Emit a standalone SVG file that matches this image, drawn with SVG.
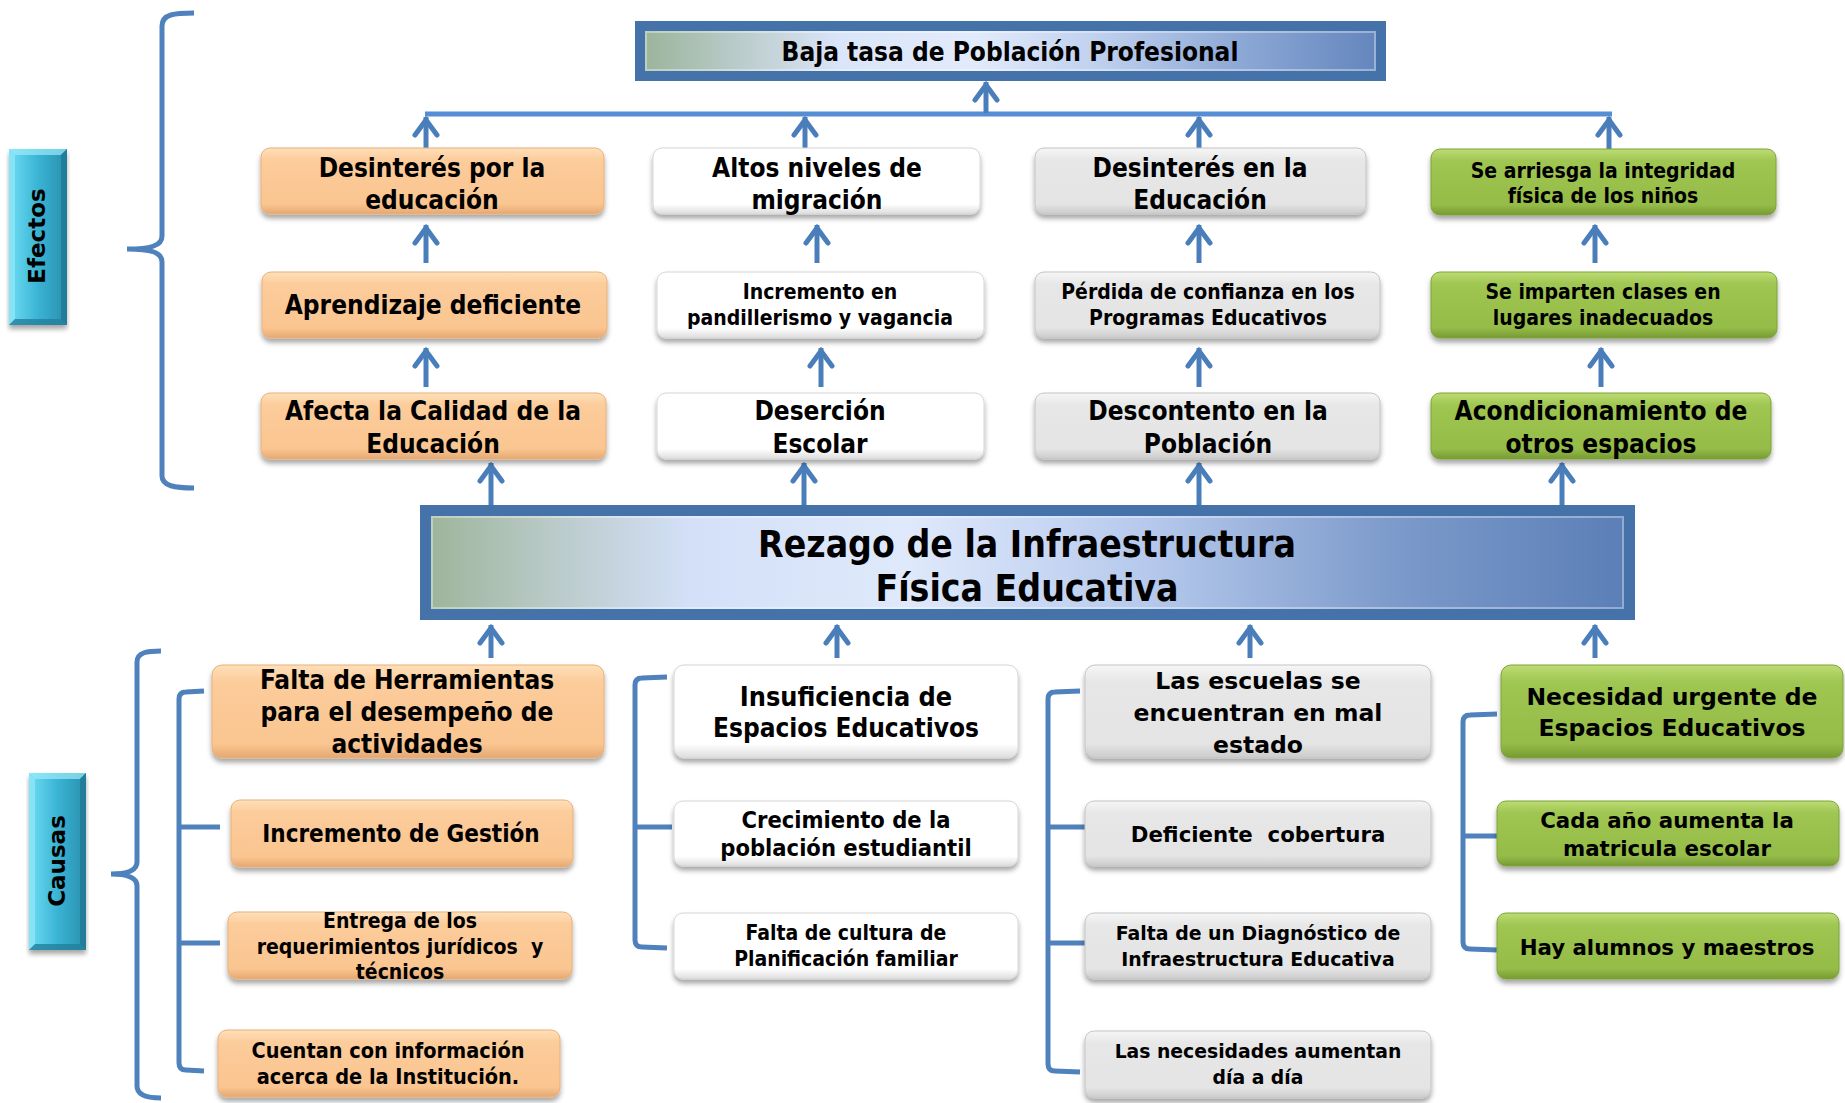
<svg xmlns="http://www.w3.org/2000/svg" width="1845" height="1103" viewBox="0 0 1845 1103">
<style>
.t{font-family:"DejaVu Sans Condensed","DejaVu Sans",sans-serif;font-stretch:condensed;font-weight:bold;text-anchor:middle;fill:#000}
.v{font-family:"DejaVu Sans",Verdana,sans-serif;font-weight:bold;text-anchor:middle;fill:#000}
.pre{white-space:pre}
.or{fill:url(#gOr);stroke:#E9B07A;stroke-width:1}
.wh{fill:url(#gWh);stroke:#D6D6D6;stroke-width:1}
.gr{fill:url(#gGr);stroke:#C4C4C4;stroke-width:1}
.gn{fill:url(#gGn);stroke:#7FA43A;stroke-width:1}
.box{filter:url(#sh)}
.br{fill:none;stroke:#4F81BD;stroke-width:5;stroke-linecap:butt}
.ar{stroke:#4A7EBB;stroke-width:5;marker-end:url(#ah)}
</style>
<defs>
<filter id="sh" x="-5%" y="-15%" width="110%" height="145%">
<feDropShadow dx="0" dy="4" stdDeviation="2.5" flood-color="#000" flood-opacity="0.35"/>
</filter>
<linearGradient id="gOr" x1="0" y1="0" x2="0" y2="1">
<stop offset="0" stop-color="#FFE0BA"/><stop offset="0.18" stop-color="#FCCC9B"/><stop offset="0.85" stop-color="#FAC590"/><stop offset="1" stop-color="#E4A872"/>
</linearGradient>
<linearGradient id="gWh" x1="0" y1="0" x2="0" y2="1">
<stop offset="0" stop-color="#FFFFFF"/><stop offset="0.85" stop-color="#FFFFFF"/><stop offset="1" stop-color="#DCDCDC"/>
</linearGradient>
<linearGradient id="gGr" x1="0" y1="0" x2="0" y2="1">
<stop offset="0" stop-color="#F6F6F6"/><stop offset="0.18" stop-color="#E7E7E7"/><stop offset="0.85" stop-color="#E4E4E4"/><stop offset="1" stop-color="#CBCBCB"/>
</linearGradient>
<linearGradient id="gGn" x1="0" y1="0" x2="0" y2="1">
<stop offset="0" stop-color="#BCDC74"/><stop offset="0.18" stop-color="#A0C652"/><stop offset="0.85" stop-color="#95BB48"/><stop offset="1" stop-color="#769A33"/>
</linearGradient>
<linearGradient id="gTitle" x1="0" y1="0" x2="1" y2="0">
<stop offset="0" stop-color="#9AB398"/><stop offset="0.12" stop-color="#B7C9C6"/><stop offset="0.27" stop-color="#DAE5F9"/><stop offset="0.45" stop-color="#E2EBFB"/><stop offset="0.62" stop-color="#BFD0EE"/><stop offset="0.82" stop-color="#8AA6D4"/><stop offset="1" stop-color="#6385BD"/>
</linearGradient>
<linearGradient id="gMain" x1="0" y1="0" x2="1" y2="0">
<stop offset="0" stop-color="#9DB499"/><stop offset="0.1" stop-color="#B8C9C6"/><stop offset="0.22" stop-color="#D3E0F8"/><stop offset="0.4" stop-color="#DFE9FB"/><stop offset="0.6" stop-color="#B6C9EC"/><stop offset="0.8" stop-color="#7D9BCB"/><stop offset="1" stop-color="#5A7EB6"/>
</linearGradient>
<linearGradient id="gCy" x1="0" y1="0" x2="1" y2="0">
<stop offset="0" stop-color="#6FDDF5"/><stop offset="0.5" stop-color="#3AB4D4"/><stop offset="1" stop-color="#2A8EAD"/>
</linearGradient>
<marker id="ah" markerUnits="userSpaceOnUse" viewBox="-22 -15 26 30" markerWidth="26" markerHeight="30" refX="0" refY="0" orient="auto">
<path d="M-18,-11 L-3,0 L-18,11" fill="none" stroke="#4A7EBB" stroke-width="5" stroke-linecap="round"/>
</marker>
</defs>
<rect width="1845" height="1103" fill="#FFFFFF"/>

<!-- side labels -->
<g id="efectos">
<rect x="9" y="149" width="58" height="176" fill="url(#gCy)" filter="url(#sh)"/>
<polygon points="9,149 67,149 61,155 15,155" fill="#9BEBFA" opacity="0.7"/>
<polygon points="9,149 15,155 15,319 9,325" fill="#8DE6F8" opacity="0.8"/>
<polygon points="67,149 67,325 61,319 61,155" fill="#1F7893" opacity="0.8"/>
<polygon points="9,325 67,325 61,319 15,319" fill="#22809C" opacity="0.8"/>
<text class="v" font-size="23" transform="translate(45,236) rotate(-90)">Efectos</text>
</g>
<g id="causas">
<rect x="29" y="773" width="57" height="177" fill="url(#gCy)" filter="url(#sh)"/>
<polygon points="29,773 86,773 80,779 35,779" fill="#9BEBFA" opacity="0.7"/>
<polygon points="29,773 35,779 35,944 29,950" fill="#8DE6F8" opacity="0.8"/>
<polygon points="86,773 86,950 80,944 80,779" fill="#1F7893" opacity="0.8"/>
<polygon points="29,950 86,950 80,944 35,944" fill="#22809C" opacity="0.8"/>
<text class="v" font-size="23" transform="translate(65,861) rotate(-90)">Causas</text>
</g>

<!-- brackets and connectors -->
<g id="connectors">
<path class="br" d="M194,13 C175,13 162,14 162,26 L162,236 C162,246 150,249 127,249 C150,249 162,252 162,262 L162,476 C162,486 175,488 194,488"/>
<path class="br" d="M161,651 C148,651 137,652 137,662 L137,862 C137,870 128,874 111,874 C128,874 137,878 137,886 L137,1086 C137,1096 148,1098 161,1098"/>
<path class="br" d="M204,691 L186,692 Q179,692 179,699 L179,1063 Q179,1070 186,1070 L204,1071 M179,827 L220,827 M179,943 L220,943"/>
<path class="br" d="M667,677 L642,678 Q635,678 635,685 L635,940 Q635,947 642,947 L667,948 M635,827 L672,827"/>
<path class="br" d="M1080,691 L1055,692 Q1048,692 1048,699 L1048,1064 Q1048,1071 1055,1071 L1080,1072 M1048,827 L1085,827 M1048,943 L1085,943"/>
<path class="br" d="M1497,714 L1470,715 Q1463,715 1463,722 L1463,942 Q1463,949 1470,949 L1497,950 M1463,836 L1497,836"/>
<line x1="425" y1="114" x2="1612" y2="114" stroke="#558ED5" stroke-width="5"/>
<line class="ar" x1="986" y1="113" x2="986" y2="82"/>
<line class="ar" x1="426" y1="148" x2="426" y2="117"/>
<line class="ar" x1="805" y1="148" x2="805" y2="117"/>
<line class="ar" x1="1199" y1="148" x2="1199" y2="117"/>
<line class="ar" x1="1609" y1="149" x2="1609" y2="117"/>
<line class="ar" x1="426" y1="263" x2="426" y2="225"/>
<line class="ar" x1="817" y1="263" x2="817" y2="225"/>
<line class="ar" x1="1199" y1="263" x2="1199" y2="225"/>
<line class="ar" x1="1595" y1="263" x2="1595" y2="225"/>
<line class="ar" x1="426" y1="387" x2="426" y2="348"/>
<line class="ar" x1="821" y1="387" x2="821" y2="348"/>
<line class="ar" x1="1199" y1="387" x2="1199" y2="348"/>
<line class="ar" x1="1601" y1="387" x2="1601" y2="348"/>
<line class="ar" x1="491" y1="505" x2="491" y2="463"/>
<line class="ar" x1="804" y1="505" x2="804" y2="463"/>
<line class="ar" x1="1199" y1="505" x2="1199" y2="463"/>
<line class="ar" x1="1562" y1="505" x2="1562" y2="463"/>
<line class="ar" x1="491" y1="658" x2="491" y2="625"/>
<line class="ar" x1="837" y1="658" x2="837" y2="625"/>
<line class="ar" x1="1250" y1="658" x2="1250" y2="625"/>
<line class="ar" x1="1595" y1="658" x2="1595" y2="625"/>
</g>

<!-- title -->
<g id="title">
<rect x="640" y="26" width="741" height="50" fill="url(#gTitle)" stroke="#4672AA" stroke-width="10"/>
<rect x="646" y="32" width="729" height="38" fill="none" stroke="#FFFFFF" stroke-opacity="0.35" stroke-width="2"/>
<text class="t" font-size="26" x="1010" y="61">Baja tasa de Población Profesional</text>
</g>

<!-- main problem -->
<g id="main">
<rect x="425.5" y="510.5" width="1204" height="104" fill="url(#gMain)" stroke="#4672AA" stroke-width="11"/>
<rect x="432" y="517" width="1191" height="91" fill="none" stroke="#FFFFFF" stroke-opacity="0.35" stroke-width="2"/>
<text class="t" font-size="37" x="1027" y="557">Rezago de la Infraestructura</text>
<text class="t" font-size="37" x="1027" y="601">Física Educativa</text>
</g>

<!-- effects row 1 -->
<g id="e-a1"><rect class="or box" x="261" y="148" width="343" height="66" rx="9"/>
<text class="t" font-size="26" x="432" y="177">Desinterés por la</text><text class="t" font-size="26" x="432" y="209">educación</text></g>
<g id="e-b1"><rect class="wh box" x="653" y="148" width="327" height="66" rx="9"/>
<text class="t" font-size="26" x="817" y="177">Altos niveles de</text><text class="t" font-size="26" x="817" y="209">migración</text></g>
<g id="e-c1"><rect class="gr box" x="1035" y="148" width="331" height="66" rx="9"/>
<text class="t" font-size="26" x="1200" y="177">Desinterés en la</text><text class="t" font-size="26" x="1200" y="209">Educación</text></g>
<g id="e-d1"><rect class="gn box" x="1431" y="149" width="345" height="66" rx="9"/>
<text class="t" font-size="21" x="1603" y="178">Se arriesga la integridad</text><text class="t" font-size="21" x="1603" y="203">física de los niños</text></g>

<!-- effects row 2 -->
<g id="e-a2"><rect class="or box" x="262" y="272" width="345" height="66" rx="9"/>
<text class="t" font-size="26" x="433" y="314">Aprendizaje deficiente</text></g>
<g id="e-b2"><rect class="wh box" x="657" y="272" width="327" height="66" rx="9"/>
<text class="t" font-size="21" x="820" y="299">Incremento en</text><text class="t" font-size="21" x="820" y="325">pandillerismo y vagancia</text></g>
<g id="e-c2"><rect class="gr box" x="1035" y="272" width="345" height="66" rx="9"/>
<text class="t" font-size="21" x="1208" y="299">Pérdida de confianza en los</text><text class="t" font-size="21" x="1208" y="325">Programas Educativos</text></g>
<g id="e-d2"><rect class="gn box" x="1431" y="272" width="346" height="66" rx="9"/>
<text class="t" font-size="21" x="1603" y="299">Se imparten clases en</text><text class="t" font-size="21" x="1603" y="325">lugares inadecuados</text></g>

<!-- effects row 3 -->
<g id="e-a3"><rect class="or box" x="261" y="393" width="345" height="66" rx="9"/>
<text class="t" font-size="26" x="433" y="420">Afecta la Calidad de la</text><text class="t" font-size="26" x="433" y="453">Educación</text></g>
<g id="e-b3"><rect class="wh box" x="657" y="393" width="327" height="66" rx="9"/>
<text class="t" font-size="26" x="820" y="420">Deserción</text><text class="t" font-size="26" x="820" y="453">Escolar</text></g>
<g id="e-c3"><rect class="gr box" x="1035" y="393" width="345" height="66" rx="9"/>
<text class="t" font-size="26" x="1208" y="420">Descontento en la</text><text class="t" font-size="26" x="1208" y="453">Población</text></g>
<g id="e-d3"><rect class="gn box" x="1431" y="393" width="340" height="66" rx="9"/>
<text class="t" font-size="26" x="1601" y="420">Acondicionamiento de</text><text class="t" font-size="26" x="1601" y="453">otros espacios</text></g>

<!-- causes column A -->
<g id="c-a1"><rect class="or box" x="212" y="665" width="392" height="93" rx="10"/>
<text class="t" font-size="26" x="407" y="689">Falta de Herramientas</text><text class="t" font-size="26" x="407" y="721">para el desempeño de</text><text class="t" font-size="26" x="407" y="753">actividades</text></g>
<g id="c-a2"><rect class="or box" x="231" y="800" width="342" height="67" rx="9"/>
<text class="t" font-size="24" x="401" y="842">Incremento de Gestión</text></g>
<g id="c-a3"><rect class="or box" x="228" y="912" width="344" height="67" rx="9"/>
<text class="t" font-size="21" x="400" y="928">Entrega de los</text><text class="t pre" font-size="21" x="400" y="954">requerimientos jurídicos  y</text><text class="t" font-size="21" x="400" y="979">técnicos</text></g>
<g id="c-a4"><rect class="or box" x="218" y="1030" width="342" height="67" rx="9"/>
<text class="t" font-size="21.5" x="388" y="1058">Cuentan con información</text><text class="t" font-size="21.5" x="388" y="1084">acerca de la Institución.</text></g>

<!-- causes column B -->
<g id="c-b1"><rect class="wh box" x="674" y="665" width="344" height="93" rx="10"/>
<text class="t" font-size="26.8" x="846" y="706">Insuficiencia de</text><text class="t" font-size="26" x="846" y="737">Espacios Educativos</text></g>
<g id="c-b2"><rect class="wh box" x="674" y="801" width="344" height="65" rx="9"/>
<text class="t" font-size="23.5" x="846" y="828">Crecimiento de la</text><text class="t" font-size="23.5" x="846" y="856">población estudiantil</text></g>
<g id="c-b3"><rect class="wh box" x="674" y="913" width="344" height="66" rx="9"/>
<text class="t" font-size="21" x="846" y="940">Falta de cultura de</text><text class="t" font-size="21" x="846" y="966">Planificación familiar</text></g>

<!-- causes column C -->
<g id="c-c1"><rect class="gr box" x="1085" y="665" width="346" height="93" rx="10"/>
<text class="v" font-size="23.5" x="1258" y="689">Las escuelas se</text><text class="v" font-size="23.5" x="1258" y="721">encuentran en mal</text><text class="v" font-size="23.5" x="1258" y="753">estado</text></g>
<g id="c-c2"><rect class="gr box" x="1085" y="801" width="346" height="65" rx="9"/>
<text class="v pre" font-size="21.3" x="1258" y="842">Deficiente  cobertura</text></g>
<g id="c-c3"><rect class="gr box" x="1085" y="913" width="346" height="66" rx="9"/>
<text class="v" font-size="18.9" x="1258" y="940">Falta de un Diagnóstico de</text><text class="v" font-size="18.9" x="1258" y="966">Infraestructura Educativa</text></g>
<g id="c-c4"><rect class="gr box" x="1085" y="1031" width="346" height="67" rx="9"/>
<text class="v" font-size="18.8" x="1258" y="1058">Las necesidades aumentan</text><text class="v" font-size="18.8" x="1258" y="1084">día a día</text></g>

<!-- causes column D -->
<g id="c-d1"><rect class="gn box" x="1501" y="665" width="342" height="93" rx="10"/>
<text class="v" font-size="23.5" x="1672" y="705">Necesidad urgente de</text><text class="v" font-size="23.5" x="1672" y="736">Espacios Educativos</text></g>
<g id="c-d2"><rect class="gn box" x="1497" y="801" width="342" height="65" rx="9"/>
<text class="v" font-size="21.3" x="1667" y="828">Cada año aumenta la</text><text class="v" font-size="21.3" x="1667" y="856">matricula escolar</text></g>
<g id="c-d3"><rect class="gn box" x="1497" y="913" width="342" height="66" rx="9"/>
<text class="v" font-size="21.3" x="1667" y="955">Hay alumnos y maestros</text></g>
</svg>
